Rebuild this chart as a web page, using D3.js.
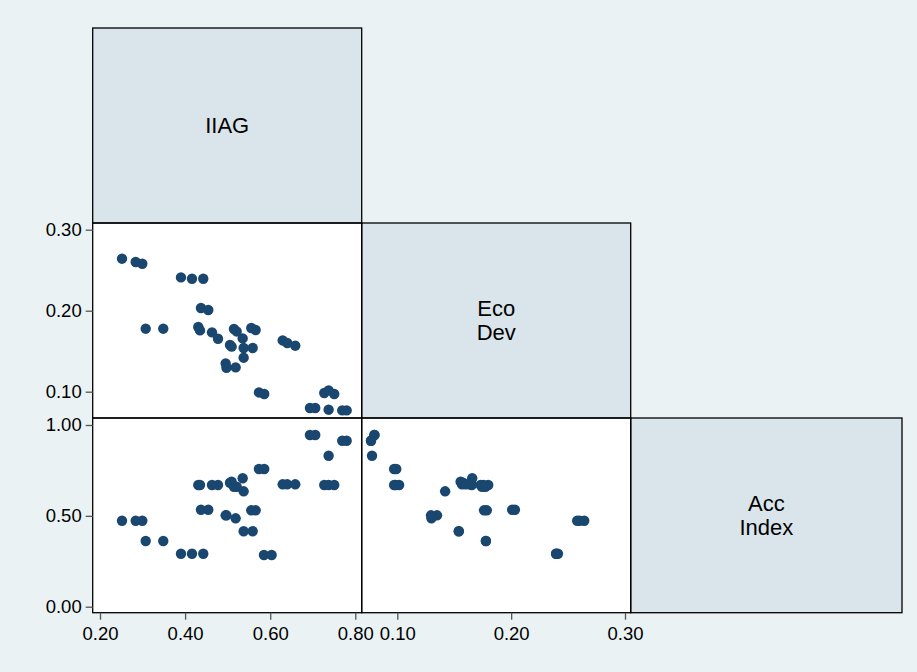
<!DOCTYPE html>
<html>
<head>
<meta charset="utf-8">
<script src="https://cdn.jsdelivr.net/npm/d3@7/dist/d3.min.js"></script>
<style>
html,body{margin:0;padding:0;background:#eaf2f3;}
svg{display:block;}
text{font-family:"Liberation Sans",Arial,sans-serif;}
</style>
</head>
<body>
<svg id="chart" width="917" height="672"></svg>
<script>
// Variables (diagonal labels)
const varLabels = [["IIAG"], ["Eco", "Dev"], ["Acc", "Index"]];
// Observations (null = missing)
const iiag = [0.2517,0.2839,0.2994,0.3074,0.3487,0.3903,0.4162,0.4427,0.4310,0.4350,
              0.4373,0.4545,0.4632,0.4773,0.5055,0.5094,0.5148,0.5212,0.5353,0.5376,
              0.4953,0.4972,0.5188,0.5376,0.5588,0.5555,0.5658,0.5736,0.5860,0.5853,
              0.6034,0.6293,0.6401,0.6589,0.6934,0.7059,0.7270,0.7373,0.7505,0.7373,
              0.7693,0.7797];
const ecoDev = [0.2642,0.2601,0.2580,0.1778,0.1778,0.2411,0.2395,0.2395,0.1799,0.1757,
                0.2033,0.2009,0.1732,0.1654,0.1577,0.1556,0.1774,0.1744,0.1658,0.1420,
                0.1349,0.1296,0.1300,0.1540,0.1540,0.1786,0.1762,0.0991,0.0972,null,
                null,0.1633,0.1601,0.1568,0.0799,0.0799,0.0984,0.1016,0.0972,0.0778,
                0.0769,0.0769];
const accIndex = [0.4733,0.4733,0.4733,0.3616,0.3616,0.2917,0.2917,0.2917,0.6698,0.6698,
                  0.5338,0.5338,0.6698,0.6698,0.6824,0.6879,0.6604,0.6604,0.7067,0.6351,
                  0.5030,0.5030,0.4865,0.4150,0.4150,0.5305,0.5305,0.7578,0.7578,0.2845,
                  0.2845,0.6736,0.6736,0.6736,0.9450,0.9450,0.6698,0.6698,0.6698,0.8310,
                  0.9136,0.9136];
const iiagTicks = [0.2,0.4,0.6,0.8];
const ecoTicks = [0.1,0.2,0.3];
const accTicks = [0,0.5,1];

const svg = d3.select("#chart");
const fmt = d3.format(".2f");

// Panel boundaries
const colX = [92.7, 361.7, 630.7, 902];
const rowY = [28, 223, 418, 612.7];

const xI = d3.scaleLinear().domain([0.2,0.8]).range([100,355.3]);
const xE = d3.scaleLinear().domain([0.1,0.3]).range([397.3,625]);
const yE = d3.scaleLinear().domain([0.1,0.3]).range([391.7,229.7]);
const yA = d3.scaleLinear().domain([0,1]).range([606.7,425]);

// diagonal panels
varLabels.forEach((lab,i)=>{
  const x0=colX[i], x1=colX[i+1], y0=rowY[i], y1=rowY[i+1];
  svg.append("rect").attr("x",x0).attr("y",y0).attr("width",x1-x0).attr("height",y1-y0)
    .attr("fill","#d9e5eb");
  const cx=(x0+x1)/2, cy=(y0+y1)/2;
  const lh=24;
  lab.forEach((t,j)=>{
    svg.append("text").attr("x",cx).attr("y",cy+(j-(lab.length-1)/2)*lh)
      .attr("text-anchor","middle").attr("dominant-baseline","central")
      .attr("font-size",22).attr("fill","#000").text(t);
  });
});

// scatter panels
const panels = [
  {r:1,c:0,xs:xI,ys:yE,xv:iiag,yv:ecoDev},
  {r:2,c:0,xs:xI,ys:yA,xv:iiag,yv:accIndex},
  {r:2,c:1,xs:xE,ys:yA,xv:ecoDev,yv:accIndex}
];
panels.forEach((p,k)=>{
  const x0=colX[p.c], x1=colX[p.c+1], y0=rowY[p.r], y1=rowY[p.r+1];
  svg.append("rect").attr("x",x0).attr("y",y0).attr("width",x1-x0).attr("height",y1-y0)
    .attr("fill","#ffffff");
  svg.append("clipPath").attr("id","cp"+k).append("rect")
    .attr("x",x0).attr("y",y0).attr("width",x1-x0).attr("height",y1-y0);
  const pts = p.xv.map((v,i)=>[v,p.yv[i]]).filter(d=>d[0]!=null && d[1]!=null);
  svg.append("g").attr("clip-path","url(#cp"+k+")")
    .selectAll("circle").data(pts).join("circle")
    .attr("cx",d=>p.xs(d[0])).attr("cy",d=>p.ys(d[1])).attr("r",5.2)
    .attr("fill","#1a476f");
});

// borders
const boxes=[[0,0],[1,0],[1,1],[2,0],[2,1],[2,2]];
boxes.forEach(([r,c])=>{
  svg.append("rect").attr("x",colX[c]).attr("y",rowY[r])
    .attr("width",colX[c+1]-colX[c]).attr("height",rowY[r+1]-rowY[r])
    .attr("fill","none").attr("stroke","#000").attr("stroke-width",1.3);
});

// axes
function styleAxis(g){
  g.select(".domain").remove();
  g.selectAll(".tick line").attr("stroke","#555").attr("stroke-width",1.3);
  g.selectAll(".tick text").attr("font-size",18.5).attr("fill","#000")
    .attr("font-family","'Liberation Sans',Arial,sans-serif");
}
svg.append("g").attr("transform",`translate(${colX[0]},0)`)
  .call(d3.axisLeft(yE).tickValues(ecoTicks).tickFormat(fmt).tickSize(7).tickPadding(4))
  .call(styleAxis);
svg.append("g").attr("transform",`translate(${colX[0]},0)`)
  .call(d3.axisLeft(yA).tickValues(accTicks).tickFormat(fmt).tickSize(7).tickPadding(4))
  .call(styleAxis);
svg.append("g").attr("transform",`translate(0,${rowY[3]})`)
  .call(d3.axisBottom(xI).tickValues(iiagTicks).tickFormat(fmt).tickSize(7).tickPadding(7))
  .call(styleAxis);
svg.append("g").attr("transform",`translate(0,${rowY[3]})`)
  .call(d3.axisBottom(xE).tickValues(ecoTicks).tickFormat(fmt).tickSize(7).tickPadding(7))
  .call(styleAxis);
</script>
</body>
</html>
